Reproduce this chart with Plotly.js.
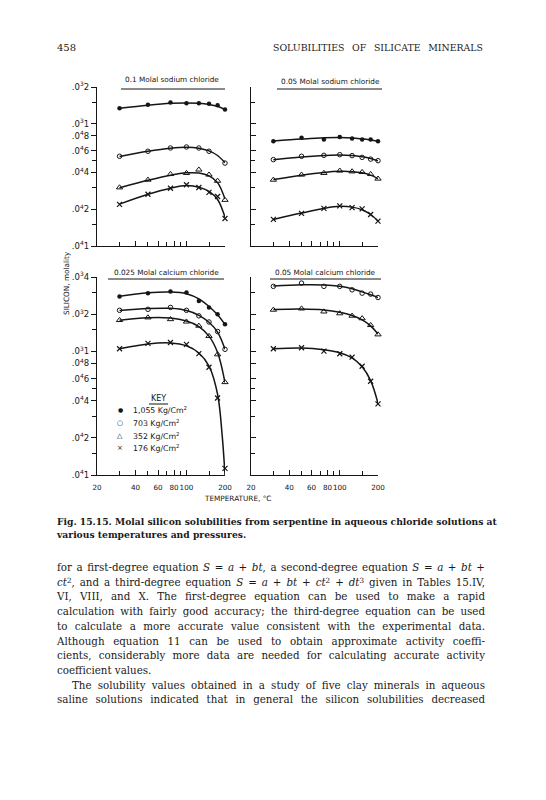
<!DOCTYPE html>
<html><head><meta charset="utf-8">
<script src="https://cdn.plot.ly/plotly-3.0.1.min.js"></script>
<style>
html,body{margin:0;padding:0;background:#fff;width:546px;height:800px;overflow:hidden;}
#chart{position:absolute;left:0;top:0;width:546px;height:800px;}
.t{position:absolute;font-family:"DejaVu Serif",serif;color:#1a1a1a;white-space:nowrap;line-height:14px;height:14px;}
.j{text-align:justify;text-align-last:justify;}
.t sup{font-size:0.7em;line-height:0;vertical-align:0.45em;}
</style></head><body>
<div id="chart"></div>
<div id="page"></div>
<script>
// ---------- DATA (silicon molality in units of 1e-4 molal) ----------
const temps = [30, 50, 75, 100, 125, 150, 175, 200];
const xTickVals = [20, 40, 60, 80, 100, 200];
const xTickText = ['20', '40', '60', '80', '100', '200'];
const xMinorVals = [30, 50, 70, 90, 150];
const yTickValsTop = [1, 2, 4, 6, 8, 10, 20];
const yTickTextTop = ['.0<sup>4</sup>1', '.0<sup>4</sup>2', '.0<sup>4</sup>4', '.0<sup>4</sup>6', '.0<sup>4</sup>8', '.0<sup>3</sup>1', '.0<sup>3</sup>2'];
const yTickValsBot = [1, 2, 4, 6, 8, 10, 20, 40];
const yTickTextBot = ['.0<sup>4</sup>1', '.0<sup>4</sup>2', '.0<sup>4</sup>4', '.0<sup>4</sup>6', '.0<sup>4</sup>8', '.0<sup>3</sup>1', '.0<sup>3</sup>2', '.0<sup>3</sup>4'];
const yMinorVals = [1.5, 3, 5, 15, 30];

// Panel 1: 0.1 molal sodium chloride
const na01_1055 = [13.4, 14.3, 14.9, 14.7, 14.7, 14.6, 14.2, 13.1];
const na01_703  = [5.42, 5.96, 6.34, 6.46, 6.34, 5.96, null, 4.77];
const na01_352  = [3.01, 3.48, 3.87, 3.95, 4.21, 3.83, 3.41, 2.38];
const na01_176  = [2.19, 2.65, 2.97, 3.17, 3.01, 2.75, 2.54, 1.68];
const na01_1055_fit = [13.4, 14.2, 14.7, 14.8, 14.7, 14.4, 13.9, 13.1];
const na01_703_fit  = [5.4, 5.95, 6.3, 6.42, 6.32, 6.0, 5.5, 4.8];
const na01_352_fit  = [3.0, 3.45, 3.8, 3.97, 3.95, 3.75, 3.3, 2.42];
const na01_176_fit  = [2.2, 2.65, 2.97, 3.12, 3.03, 2.8, 2.4, 1.72];

// Panel 2: 0.05 molal sodium chloride
const na005_1055 = [7.20, 7.67, 7.44, 7.81, 7.58, 7.44, 7.44, 7.20];
const na005_703  = [5.09, 5.42, 5.52, 5.59, 5.49, 5.31, 5.14, 4.99];
const na005_352  = [3.48, 3.83, 3.95, 4.13, 4.07, 4.02, 3.87, 3.55];
const na005_176  = [1.65, 1.85, 2.03, 2.13, 2.06, 2.01, 1.81, 1.60];
const na005_1055_fit = [7.22, 7.5, 7.68, 7.72, 7.66, 7.52, 7.38, 7.2];
const na005_703_fit  = [5.08, 5.35, 5.5, 5.56, 5.5, 5.37, 5.2, 4.98];
const na005_352_fit  = [3.5, 3.8, 4.0, 4.08, 4.06, 3.97, 3.8, 3.55];
const na005_176_fit  = [1.65, 1.86, 2.03, 2.11, 2.08, 1.98, 1.81, 1.6];

// Panel 3: 0.025 molal calcium chloride
const ca025_1055 = [27.8, 29.6, 30.6, 30.0, 25.6, 22.7, 20.0, 16.6];
const ca025_703  = [21.5, 21.9, 22.7, 21.5, 19.4, 17.3, 14.5, 10.4];
const ca025_352  = [17.9, 18.8, 18.2, 17.4, 16.1, 13.3, 9.45, 5.63];
const ca025_176  = [10.5, 11.6, 11.8, 11.4, 9.6, 7.45, 4.2, 1.13];
const ca025_1055_fit = [28.0, 29.8, 30.2, 29.3, 26.6, 23.1, 19.8, 16.5];
const ca025_703_fit  = [21.4, 22.2, 22.3, 21.4, 19.6, 17.2, 14.3, 10.4];
const ca025_352_fit  = [17.9, 18.7, 18.6, 17.6, 15.9, 13.3, 9.8, 5.6];
const ca025_176_fitT = [30, 50, 75, 100, 125, 150, 175, 190, 200];
const ca025_176_fit  = [10.5, 11.5, 11.7, 11.1, 9.7, 7.6, 4.5, 2.1, 1.0];

// Panel 4: 0.05 molal calcium chloride
const ca005_703 = [33.6, 35.7, 33.6, 33.6, 31.5, 29.6, 29.1, 27.3];
const ca005_352 = [21.7, 22.2, 21.0, 20.3, 19.4, 18.5, 16.3, 13.7];
const ca005_176 = [10.5, 10.7, 10.05, 9.58, 8.99, 7.59, 5.74, 3.76];
const ca005_703_fit = [33.8, 34.6, 34.5, 33.6, 32.1, 30.3, 28.7, 27.3];
const ca005_352_fit = [21.8, 22.0, 21.6, 20.7, 19.5, 18.0, 16.1, 13.8];
const ca005_176_fit = [10.5, 10.65, 10.3, 9.75, 8.85, 7.5, 5.8, 3.8];

const keyNames = ['1,055 Kg/Cm<sup>2</sup>', '703 Kg/Cm<sup>2</sup>', '352 Kg/Cm<sup>2</sup>', '176 Kg/Cm<sup>2</sup>'];
const keyGlyphs = ['\u25CF', '\u25CB', '\u25B3', '\u00D7'];
const panelTitles = ['0.1 Molal sodium chloride', '0.05 Molal sodium chloride', '0.025 Molal calcium chloride', '0.05 Molal calcium chloride'];

// ---------- BUILD ----------
const W = 546, H = 800;
const px = x => x / W, py = y => 1 - y / H;
const toM = a => a.map(v => v == null ? null : v * 1e-4);
const INK = '#151515';
const sym = {
  '1055': {symbol: 'circle', size: 4.5, color: INK, line: {width: 0}},
  '703':  {symbol: 'circle-open', size: 4.5, color: INK, line: {width: 1, color: INK}},
  '352':  {symbol: 'triangle-up-open', size: 5.5, color: INK, line: {width: 1, color: INK}},
  '176':  {symbol: 'x-thin-open', size: 5, color: INK, line: {width: 1.2, color: INK}}
};
const traces = [];
function series(xa, ya, p, vals, fitT, fit) {
  traces.push({x: fitT, y: toM(fit), xaxis: xa, yaxis: ya, mode: 'lines', type: 'scatter',
    line: {color: INK, width: 1.5, shape: 'spline', smoothing: 1}, cliponaxis: false, showlegend: false, hoverinfo: 'skip'});
  traces.push({x: temps, y: toM(vals), xaxis: xa, yaxis: ya, mode: 'markers', type: 'scatter',
    marker: sym[p], cliponaxis: false, showlegend: false, name: p});
}
series('x', 'y', '1055', na01_1055, temps, na01_1055_fit);
series('x', 'y', '703', na01_703, temps, na01_703_fit);
series('x', 'y', '352', na01_352, temps, na01_352_fit);
series('x', 'y', '176', na01_176, temps, na01_176_fit);
series('x2', 'y2', '1055', na005_1055, temps, na005_1055_fit);
series('x2', 'y2', '703', na005_703, temps, na005_703_fit);
series('x2', 'y2', '352', na005_352, temps, na005_352_fit);
series('x2', 'y2', '176', na005_176, temps, na005_176_fit);
series('x3', 'y3', '1055', ca025_1055, temps, ca025_1055_fit);
series('x3', 'y3', '703', ca025_703, temps, ca025_703_fit);
series('x3', 'y3', '352', ca025_352, temps, ca025_352_fit);
series('x3', 'y3', '176', ca025_176, ca025_176_fitT, ca025_176_fit);
series('x4', 'y4', '703', ca005_703, temps, ca005_703_fit);
series('x4', 'y4', '352', ca005_352, temps, ca005_352_fit);
series('x4', 'y4', '176', ca005_176, temps, ca005_176_fit);

const FONT = {family: 'DejaVu Sans, sans-serif', color: INK};
const xL = [px(97), px(225)], xR = [px(251), px(378)];
const yT = [py(246), py(87)], yB = [py(475), py(277)];
const xRange = [Math.log10(20), Math.log10(200)];
function xax(dom, anchor, labels) {
  return {domain: dom, anchor: anchor, type: 'log', range: xRange, tickmode: 'array', tickvals: xTickVals,
    ticktext: xTickText, showticklabels: labels, tickangle: 0, ticks: 'inside', ticklen: 5, tickwidth: 1,
    ticklabelstandoff: 5,
    tickcolor: INK, showline: true, linecolor: INK, linewidth: 1.2, showgrid: false, zeroline: false,
    minor: {tickmode: 'array', tickvals: xMinorVals, ticks: 'inside', ticklen: 4, tickwidth: 1, tickcolor: INK, showgrid: false},
    tickfont: Object.assign({size: 7.2}, FONT), fixedrange: true};
}
function yax(dom, anchor, top, labels) {
  const vals = (top ? yTickValsTop : yTickValsBot).map(v => v * 1e-4);
  const txt = top ? yTickTextTop : yTickTextBot;
  const minor = yMinorVals.filter(v => v <= (top ? 20 : 40)).map(v => v * 1e-4);
  const dir = labels ? 'outside' : 'inside';
  return {domain: dom, anchor: anchor, type: 'log',
    range: [-4, Math.log10(top ? 2e-3 : 4e-3)], tickmode: 'array', tickvals: vals,
    ticktext: txt, showticklabels: labels, ticks: dir, ticklen: 5, tickwidth: 1,
    tickcolor: INK, showline: true, linecolor: INK, linewidth: 1.2, showgrid: false, zeroline: false,
    minor: {tickmode: 'array', tickvals: minor, ticks: dir, ticklen: 4, tickwidth: 1, tickcolor: INK, showgrid: false},
    tickfont: Object.assign({size: 8.5}, FONT), fixedrange: true};
}

const annotations = [];
const shapes = [];
const titlePos = [[172, 80, 121, 225, 89], [330, 81, 277, 382, 89], [166, 272, 108, 224, 279], [325, 272, 270, 381, 279]];
panelTitles.forEach((t, i) => {
  const p = titlePos[i];
  annotations.push({text: t, x: px(p[0]), y: py(p[1]), xref: 'paper', yref: 'paper', showarrow: false,
    xanchor: 'center', yanchor: 'middle', font: Object.assign({size: 7.3}, FONT)});
  shapes.push({type: 'line', xref: 'paper', yref: 'paper', x0: px(p[2]), x1: px(p[3]), y0: py(p[4]), y1: py(p[4]),
    line: {color: INK, width: 1}});
});
annotations.push({text: 'SILICON, molality', textangle: -90, x: px(66), y: py(283), xref: 'paper', yref: 'paper',
  showarrow: false, xanchor: 'center', yanchor: 'middle', font: Object.assign({size: 7.3}, FONT)});
annotations.push({text: 'TEMPERATURE, \u00B0C', x: px(237), y: py(498), xref: 'paper', yref: 'paper',
  showarrow: false, xanchor: 'center', yanchor: 'middle', font: Object.assign({size: 7.3}, FONT)});
// key
annotations.push({text: 'KEY', x: px(158), y: py(398), xref: 'paper', yref: 'paper', showarrow: false,
  xanchor: 'center', yanchor: 'middle', font: Object.assign({size: 8}, FONT)});
shapes.push({type: 'line', xref: 'paper', yref: 'paper', x0: px(149), x1: px(168), y0: py(404), y1: py(404), line: {color: INK, width: 1}});
const keyY = [410, 423, 436, 448];
keyNames.forEach((n, i) => {
  annotations.push({text: keyGlyphs[i], x: px(120), y: py(keyY[i]), xref: 'paper', yref: 'paper', showarrow: false,
    xanchor: 'center', yanchor: 'middle', font: Object.assign({size: i === 0 ? 6 : 7}, FONT)});
  annotations.push({text: n, x: px(131), y: py(keyY[i]), xref: 'paper', yref: 'paper', showarrow: false,
    xanchor: 'left', yanchor: 'middle', font: Object.assign({size: 7.8}, FONT)});
});

const layout = {
  width: W, height: H, margin: {l: 0, r: 0, t: 0, b: 0, pad: 0},
  paper_bgcolor: '#ffffff', plot_bgcolor: 'rgba(0,0,0,0)', showlegend: false,
  xaxis: xax(xL, 'y', false), yaxis: yax(yT, 'x', true, true),
  xaxis2: xax(xR, 'y2', false), yaxis2: yax(yT, 'x2', true, false),
  xaxis3: xax(xL, 'y3', true), yaxis3: yax(yB, 'x3', false, true),
  xaxis4: xax(xR, 'y4', true), yaxis4: yax(yB, 'x4', false, false),
  annotations: annotations, shapes: shapes, font: FONT
};
Plotly.newPlot('chart', traces, layout, {staticPlot: true, displayModeBar: false});

// ---------- PAGE TEXT ----------
const header = [['458', 57, 41, 0, false, 10], ['SOLUBILITIES OF SILICATE MINERALS', 273, 41, 210, true, 9.4]];
const caption = [
  'Fig. 15.15. Molal silicon solubilities from serpentine in aqueous chloride solutions at',
  'various temperatures and pressures.'
];
const body = [
  'for a first-degree equation <i>S</i> = <i>a</i> + <i>bt</i>, a second-degree equation <i>S</i> = <i>a</i> + <i>bt</i> +',
  '<i>ct</i><sup>2</sup>, and a third-degree equation <i>S</i> = <i>a</i> + <i>bt</i> + <i>ct</i><sup>2</sup> + <i>dt</i><sup>3</sup> given in Tables 15.IV,',
  'VI, VIII, and X. The first-degree equation can be used to make a rapid',
  'calculation with fairly good accuracy; the third-degree equation can be used',
  'to calculate a more accurate value consistent with the experimental data.',
  'Although equation 11 can be used to obtain approximate activity coeffi-',
  'cients, considerably more data are needed for calculating accurate activity',
  'coefficient values.',
  'The solubility values obtained in a study of five clay minerals in aqueous',
  'saline solutions indicated that in general the silicon solubilities decreased'
];
const page = document.getElementById('page');
function line(html, left, top, width, justify, size, weight) {
  const d = document.createElement('div');
  d.className = 't' + (justify ? ' j' : '');
  d.style.left = left + 'px'; d.style.top = top + 'px';
  if (width) d.style.width = width + 'px';
  d.style.fontSize = size + 'px';
  if (weight) d.style.fontWeight = weight;
  d.innerHTML = html;
  page.appendChild(d);
}
header.forEach(h => line(h[0], h[1], h[2], h[3], h[4], h[5]));
line(caption[0], 57, 515, 428, true, 9.2, 600);
line(caption[1], 57, 528, 0, false, 9.2, 600);
body.forEach((b, i) => {
  const indent = (i === 8) ? 15 : 0;
  line(b, 57 + indent, 560 + i * 14.7, 428 - indent, i !== 7, 10.3);
});
</script>
</body></html>
